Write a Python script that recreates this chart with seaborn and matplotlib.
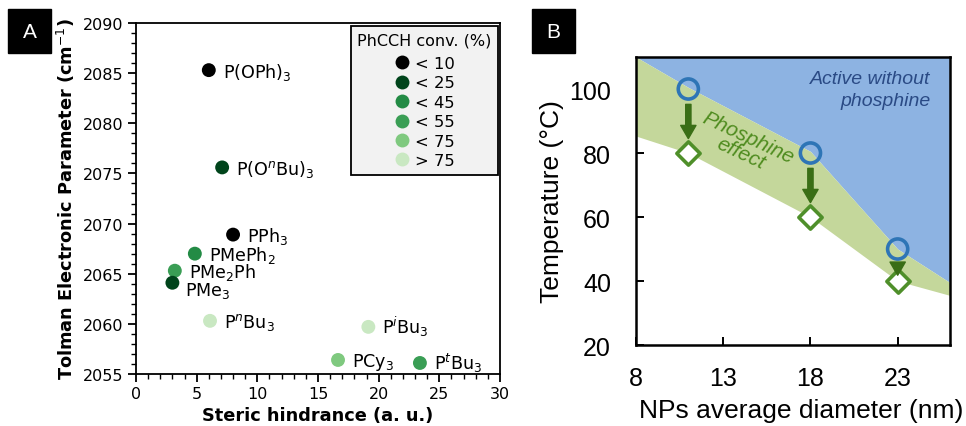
import numpy as np
import pandas as pd
import matplotlib
matplotlib.use("Agg")
import matplotlib.pyplot as plt
from matplotlib.patches import Rectangle
import seaborn as sns

# ============================================================
# DATA
# ============================================================
# Panel A: phosphine ligands
ligands = ["P(OPh)$_3$", "P(O$^n$Bu)$_3$", "PPh$_3$", "PMePh$_2$", "PMe$_2$Ph",
           "PMe$_3$", "P$^n$Bu$_3$", "P$^i$Bu$_3$", "PCy$_3$", "P$^t$Bu$_3$"]
steric = [6.0, 7.1, 8.0, 4.85, 3.2, 3.0, 6.1, 19.15, 16.65, 23.4]
tep = [2085.3, 2075.6, 2068.9, 2067.0, 2065.3, 2064.1, 2060.3, 2059.7, 2056.4, 2056.1]
conv_class = ["< 10", "< 25", "< 10", "< 45", "< 55",
              "< 25", "> 75", "> 75", "< 75", "< 55"]
conv_order = ["< 10", "< 25", "< 45", "< 55", "< 75", "> 75"]
conv_colors = ["#000000", "#00441b", "#238b45", "#3a9e55", "#7fc97f", "#c9e8c2"]

# Panel B: NP size vs temperature
np_diam = [11, 18, 23]
temp_without = [100, 80, 50]
temp_with = [80, 60, 40]
band_x = [8, 11, 18, 23, 26]
band_upper = [110, 100.5, 80.5, 50, 39.5]
band_lower = [85.3, 80, 60, 40, 35.5]

# ============================================================
# FIGURE
# ============================================================
sns.set_style("ticks")
plt.rcParams["font.family"] = ["DejaVu Sans"]
for key in ["text.color", "axes.labelcolor", "xtick.color", "ytick.color", "axes.edgecolor"]:
    plt.rcParams[key] = "black"

fig = plt.figure(figsize=(9.66, 4.27), dpi=100)
axA = fig.add_axes([136 / 966, 1 - 375 / 427, 364 / 966, 351 / 427])
axB = fig.add_axes([636 / 966, 1 - 346 / 427, 314 / 966, 288 / 427])

# ---------------- Panel A ----------------
df = pd.DataFrame({"steric": steric, "tep": tep, "conv": conv_class})
sns.scatterplot(data=df, x="steric", y="tep", hue="conv", hue_order=conv_order,
                palette=dict(zip(conv_order, conv_colors)), s=100, linewidth=0,
                ax=axA, zorder=3)

# label offsets (points), baseline anchored
offsets = {"PMe$_3$": (9, -8.5)}
for name, x, y in zip(ligands, steric, tep):
    dx, dy = offsets.get(name, (10, -4.6))
    axA.annotate(name, (x, y), xytext=(dx, dy), textcoords="offset points",
                 fontsize=12.6, va="baseline", ha="left")

axA.set_xlim(0, 30)
axA.set_ylim(2055, 2090)
axA.set_xticks([0, 5, 10, 15, 20, 25, 30])
axA.set_yticks(np.arange(2055, 2091, 5))
axA.set_xticks(np.arange(0, 31, 1), minor=True)
axA.set_yticks(np.arange(2055, 2091, 1), minor=True)
axA.tick_params(which="major", direction="out", length=6, width=1.3, labelsize=11.5, pad=3)
axA.tick_params(which="minor", direction="out", length=3.5, width=1.0)
for sp in axA.spines.values():
    sp.set_linewidth(1.3)
axA.set_xlabel("Steric hindrance (a. u.)", fontsize=12.8, fontweight="bold", labelpad=3)
axA.set_ylabel("Tolman Electronic Parameter (cm$^{-1}$)", fontsize=12.8,
               fontweight="bold", labelpad=4)

sns.move_legend(axA, "upper right", bbox_to_anchor=(0.995, 0.991), borderaxespad=0,
                title="PhCCH conv. (%)", frameon=True, fancybox=False, fontsize=11.8,
                title_fontsize=11.5, labelspacing=0.27, handlelength=1.0,
                handletextpad=0.25, borderpad=0.4, markerscale=1.0, alignment="center",
                edgecolor="black", facecolor="#f2f2f2", framealpha=1)
leg = axA.get_legend()
leg.get_frame().set_linewidth(1.3)
leg._legend_box.sep = 6  # a bit more room under the legend title

# ---------------- Panel B ----------------
fontB = "Liberation Sans"
axB.fill_between(band_x, band_upper, 110, color="#8db3e2", lw=0, zorder=1)
axB.fill_between(band_x, band_lower, band_upper, color="#c4d79b", lw=0, zorder=1)

sns.scatterplot(x=np_diam, y=temp_without, marker="o", s=210, facecolor="none",
                edgecolor="#2e75b6", linewidth=2.6, ax=axB, zorder=4)
sns.scatterplot(x=np_diam, y=temp_with, marker="D", s=140, facecolor="white",
                edgecolor="#4f8f2a", linewidth=2.6, ax=axB, zorder=4)

arrow_green = "#3a6e16"
for x, t0, t1 in zip(np_diam, temp_without, temp_with):
    start = t0 - 4.8
    end = t1 + 4.5 if t0 - t1 > 15 else t1 + 1.8
    axB.annotate("", xy=(x, end), xytext=(x, start),
                 arrowprops=dict(width=3.8, headwidth=11, headlength=9.5,
                                 color=arrow_green, shrink=0), zorder=5)

axB.text(24.9, 103.4, "Active without", ha="right", va="center", fontsize=14,
         style="italic", color="#2a4a85", family=fontB)
axB.text(24.9, 96.5, "phosphine", ha="right", va="center", fontsize=14,
         style="italic", color="#2a4a85", family=fontB)
axB.text(14.2, 82.5, "Phosphine\neffect", ha="center", va="center", fontsize=15,
         style="italic", color="#4e8b1e", family=fontB, rotation=-25,
         rotation_mode="anchor", linespacing=0.9)

axB.set_xlim(8, 26)
axB.set_ylim(20, 110)
axB.set_xticks([8, 13, 18, 23])
axB.set_yticks([20, 40, 60, 80, 100])
axB.tick_params(direction="in", length=6, width=1.4, labelsize=18)
axB.tick_params(axis="y", pad=18)
axB.tick_params(axis="x", pad=15)
for lab in axB.get_xticklabels() + axB.get_yticklabels():
    lab.set_family(fontB)
for sp in axB.spines.values():
    sp.set_linewidth(1.8)
axB.set_xlabel("NPs average diameter (nm)", fontsize=19, family=fontB)
axB.xaxis.set_label_coords(0.525, -0.185)
axB.set_ylabel("Temperature (°C)", fontsize=19, family=fontB, labelpad=4)

# ---------------- panel letters ----------------
for letter, x0 in [("A", 8), ("B", 532)]:
    fig.patches.append(Rectangle((x0 / 966, 1 - 54 / 427), 43 / 966, 44 / 427,
                                 transform=fig.transFigure, color="black"))
    fig.text((x0 + 21.5) / 966, 1 - 32 / 427, letter, color="white", fontsize=15,
             ha="center", va="center", family=fontB)

plt.savefig("out.png", dpi=100)
